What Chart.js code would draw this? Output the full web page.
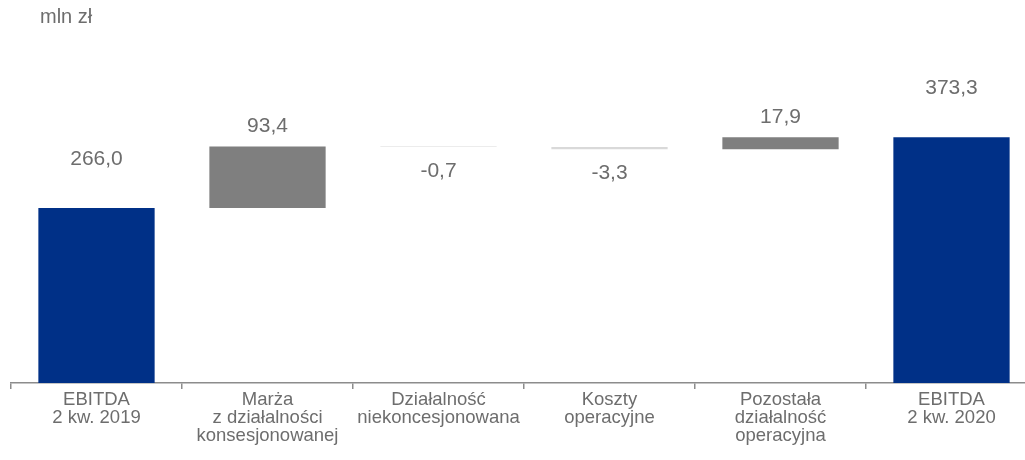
<!DOCTYPE html>
<html lang="pl">
<head>
<meta charset="utf-8">
<script src="https://cdn.jsdelivr.net/npm/chart.js@4/dist/chart.umd.min.js"></script>
<style>
  html, body { margin: 0; padding: 0; background: #ffffff; overflow: hidden; }
  #wrap { position: absolute; left: 0; top: 0; width: 1040px; height: 460px; }
  #unit { position: absolute; left: 40px; top: 5px; font: 20px "Liberation Sans", Arial, sans-serif; color: #6d6d6d; }
</style>
</head>
<body>
<div id="wrap"><canvas id="waterfall"></canvas></div>
<div id="unit">mln zł</div>
<script>
// Kategorien (mehrzeilige Achsenbeschriftungen)
const categories = [
  ['EBITDA', '2 kw. 2019'],
  ['Marża', 'z działalności', 'konsesjonowanej'],
  ['Działalność', 'niekoncesjonowana'],
  ['Koszty', 'operacyjne'],
  ['Pozostała', 'działalność', 'operacyjna'],
  ['EBITDA', '2 kw. 2020']
];
// Werte: Summen bzw. Veränderungen
const values = [266.0, 93.4, -0.7, -3.3, 17.9, 373.3];
// Art des Balkens: 'total' oder 'delta'
const kinds = ['total', 'delta', 'delta', 'delta', 'delta', 'total'];

const colTotal = '#003087';
const colUp = '#7f7f7f';
const colDown = '#d9d9d9';
const textColor = '#6d6d6d';

// Schwebende Balken für den Wasserfall aufbauen
let running = 0;
const floating = values.map((v, i) => {
  if (kinds[i] === 'total') {
    running = v;
    return [0, v];
  }
  const start = running;
  running = Math.round((running + v) * 10) / 10;
  return [Math.min(start, running), Math.max(start, running)];
});
const barColors = values.map((v, i) => kinds[i] === 'total' ? colTotal : (v >= 0 ? colUp : colDown));

function fmt(v) {
  return v.toFixed(1).replace('.', ',');
}

// Datenbeschriftungen über/unter den Balken
const valueLabels = {
  id: 'valueLabels',
  afterDatasetsDraw(chart) {
    const ctx = chart.ctx;
    const meta = chart.getDatasetMeta(0);
    ctx.save();
    ctx.font = '21px "Liberation Sans", Arial, sans-serif';
    ctx.fillStyle = textColor;
    ctx.textAlign = 'center';
    ctx.textBaseline = 'middle';
    meta.data.forEach((bar, i) => {
      const top = Math.min(bar.y, bar.base);
      const bottom = Math.max(bar.y, bar.base);
      let y;
      if (kinds[i] === 'total') y = top - 49;
      else if (values[i] >= 0) y = top - 20;
      else y = bottom + 24;
      ctx.fillText(fmt(values[i]), bar.x, y);
    });
    ctx.restore();
  }
};

new Chart(document.getElementById('waterfall').getContext('2d'), {
  type: 'bar',
  data: {
    labels: categories,
    datasets: [{
      data: floating,
      backgroundColor: barColors,
      borderWidth: 0,
      barPercentage: 0.68,
      categoryPercentage: 1.0
    }]
  },
  options: {
    responsive: true,
    maintainAspectRatio: false,
    animation: false,
    layout: { padding: { left: 11, right: 3, top: 54, bottom: 0 } },
    scales: {
      x: {
        grid: { drawOnChartArea: false, drawTicks: true, tickLength: 6, color: '#8c8c8c', lineWidth: 1.5 },
        border: { color: '#8c8c8c', width: 1.5 },
        ticks: {
          color: textColor,
          font: { family: '"Liberation Sans", Arial, sans-serif', size: 18.5, lineHeight: 0.98 },
          padding: 2,
          maxRotation: 0,
          autoSkip: false
        },
        afterFit: (scale) => { scale.height = 77; }
      },
      y: {
        display: false,
        min: 0,
        max: 500
      }
    },
    plugins: {
      legend: { display: false },
      tooltip: { enabled: false }
    }
  },
  plugins: [valueLabels]
});
</script>
</body>
</html>
